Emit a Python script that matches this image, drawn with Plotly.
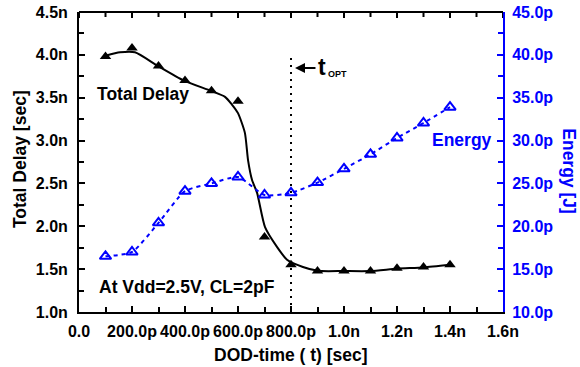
import plotly.graph_objects as go

# ---- data (x in ps, delay in ns, energy in pJ) ----
dod_time = [100, 200, 300, 400, 500, 600, 700, 800, 900, 1000, 1100, 1200, 1300, 1400]
total_delay = [3.98, 4.08, 3.87, 3.70, 3.58, 3.46, 1.875, 1.55, 1.478, 1.478, 1.478, 1.51, 1.525, 1.55]
energy = [16.5, 17.0, 20.4, 24.1, 25.0, 25.75, 23.65, 23.9, 25.1, 26.7, 28.4, 30.3, 32.05, 33.9]

fit_x = [100, 155, 211, 298, 396, 498, 551, 577, 600, 626, 638, 653, 672, 702, 747, 785, 845, 902, 1000, 1100, 1200, 1300, 1400]
fit_y = [3.99, 4.03, 4.03, 3.87, 3.70, 3.58, 3.51, 3.42, 3.32, 3.09, 2.77, 2.54, 2.39, 1.99, 1.76, 1.61, 1.525, 1.48, 1.478, 1.478, 1.505, 1.52, 1.55]

t_opt = 800
t_opt_line_y = [1.0, 3.975]

x_range = [0, 1600]
x_ticks = [0, 200, 400, 600, 800, 1000, 1200, 1400, 1600]
x_minor_ticks = [100, 300, 500, 700, 900, 1100, 1300, 1500]
x_ticktext = ["0.0", "200.0p", "400.0p", "600.0p", "800.0p", "1.0n", "1.2n", "1.4n", "1.6n"]
y_ticks = [1.0, 1.5, 2.0, 2.5, 3.0, 3.5, 4.0, 4.5]
y_ticktext = ["1.0n", "1.5n", "2.0n", "2.5n", "3.0n", "3.5n", "4.0n", "4.5n"]
y2_ticks = [10, 15, 20, 25, 30, 35, 40, 45]
y2_ticktext = ["10.0p", "15.0p", "20.0p", "25.0p", "30.0p", "35.0p", "40.0p", "45.0p"]

BLUE = "#0000FF"
FONT = "Liberation Sans, Arial, sans-serif"

fig = go.Figure()

fig.add_trace(go.Scatter(x=fit_x, y=fit_y, mode="lines",
                         line=dict(color="black", width=2, shape="spline", smoothing=0.6),
                         showlegend=False, hoverinfo="skip"))
fig.add_trace(go.Scatter(x=dod_time, y=total_delay, mode="markers",
                         marker=dict(symbol="triangle-up", size=10, color="black"),
                         showlegend=False))
fig.add_trace(go.Scatter(x=dod_time, y=energy, mode="lines+markers", yaxis="y2",
                         line=dict(color=BLUE, width=2, dash="4px,4px", shape="spline", smoothing=0.6),
                         marker=dict(symbol="triangle-up-open", size=10, color=BLUE,
                                     line=dict(width=2, color=BLUE)),
                         showlegend=False))
fig.add_trace(go.Scatter(x=[t_opt, t_opt], y=t_opt_line_y, mode="lines",
                         line=dict(color="black", width=2, dash="2px,5px"),
                         showlegend=False, hoverinfo="skip"))

tickfont = dict(family=FONT, size=16, color="black", weight="bold")
frame = dict(showgrid=False, zeroline=False, showline=True, linewidth=2, automargin=False,
             ticks="inside", ticklen=6, tickwidth=2, ticklabeloverflow="allow")

fig.update_layout(
    template="none",
    width=580, height=367,
    margin=dict(l=79, r=77, t=12, b=55, autoexpand=False),
    paper_bgcolor="white", plot_bgcolor="white",
    font=dict(family=FONT, size=17, color="black", weight="bold"),
    showlegend=False,
    xaxis=dict(frame, range=x_range, tickvals=x_ticks, ticktext=x_ticktext,
               linecolor="black", tickcolor="black",
               minor=dict(tickvals=x_minor_ticks, ticks="inside", ticklen=5, tickwidth=2, tickcolor="black"),
               tickfont=tickfont, ticklabelstandoff=4),
    yaxis=dict(frame, range=[1.0, 4.5], tickvals=y_ticks, ticktext=y_ticktext,
               linecolor="black", tickcolor="black",
               minor=dict(dtick=0.25, ticks="inside", ticklen=5, tickwidth=2, tickcolor="black"),
               tickfont=tickfont, ticklabelstandoff=6),
    yaxis2=dict(frame, range=[10, 45], tickvals=y2_ticks, ticktext=y2_ticktext,
                overlaying="y", side="right",
                linecolor=BLUE, tickcolor=BLUE,
                minor=dict(dtick=2.5, ticks="inside", ticklen=5, tickwidth=2, tickcolor=BLUE),
                tickfont=dict(family=FONT, size=16, color=BLUE, weight="bold"), ticklabelstandoff=4),
)

# top frame line with inward ticks (placed at the x axis tick values)
fig.add_shape(type="line", xref="paper", yref="paper", x0=0, x1=1, y0=1, y1=1,
              line=dict(color="black", width=2), layer="above")
for tv in x_ticks:
    fig.add_shape(type="line", xref="x", yref="paper", x0=tv, x1=tv, y0=1, y1=1 - 6 / 300,
                  line=dict(color="black", width=2), layer="above")
for tv in x_minor_ticks:
    fig.add_shape(type="line", xref="x", yref="paper", x0=tv, x1=tv, y0=1, y1=1 - 5 / 300,
                  line=dict(color="black", width=2), layer="above")

ann_font = dict(family=FONT, size=17.5, color="black", weight="bold")
fig.add_annotation(text="Total Delay [sec]", xref="paper", yref="paper", x=-0.139, y=0.51,
                   textangle=-90, showarrow=False, font=ann_font, xanchor="center", yanchor="middle")
fig.add_annotation(text="Energy [J]", xref="paper", yref="paper", x=1.155, y=0.47,
                   textangle=90, showarrow=False, font=dict(ann_font, color=BLUE),
                   xanchor="center", yanchor="middle")
fig.add_annotation(text="DOD-time ( t) [sec]", xref="paper", yref="paper", x=0.5, y=-0.143,
                   showarrow=False, font=ann_font, xanchor="center", yanchor="middle")
fig.add_annotation(text="Total Delay", x=241, y=3.543, xref="x", yref="y",
                   showarrow=False, font=ann_font)
fig.add_annotation(text="Energy", x=1445, y=30.07, xref="x", yref="y2",
                   showarrow=False, font=dict(ann_font, color=BLUE))
fig.add_annotation(text="At Vdd=2.5V, CL=2pF", x=409, y=1.291, xref="x", yref="y",
                   showarrow=False, font=ann_font)
# t_OPT arrow and label
fig.add_annotation(text="", x=815, y=3.847, xref="x", yref="y", ax=22, ay=0,
                   showarrow=True, arrowhead=2, arrowsize=1, arrowwidth=2, arrowcolor="black")
fig.add_annotation(text="t", x=895, y=3.86, xref="x", yref="y", xanchor="left", yanchor="middle",
                   showarrow=False, font=dict(family=FONT, size=23, color="black", weight="bold"))
fig.add_annotation(text="OPT", x=932, y=3.78, xref="x", yref="y", xanchor="left", yanchor="middle",
                   showarrow=False, font=dict(family=FONT, size=9, color="black", weight="bold"))

# remove the default 8px page margin so the 580x367 figure fills the window exactly
fig.write_html("out.html", config={"displayModeBar": False},
               post_script="document.body.style.margin='0';")
